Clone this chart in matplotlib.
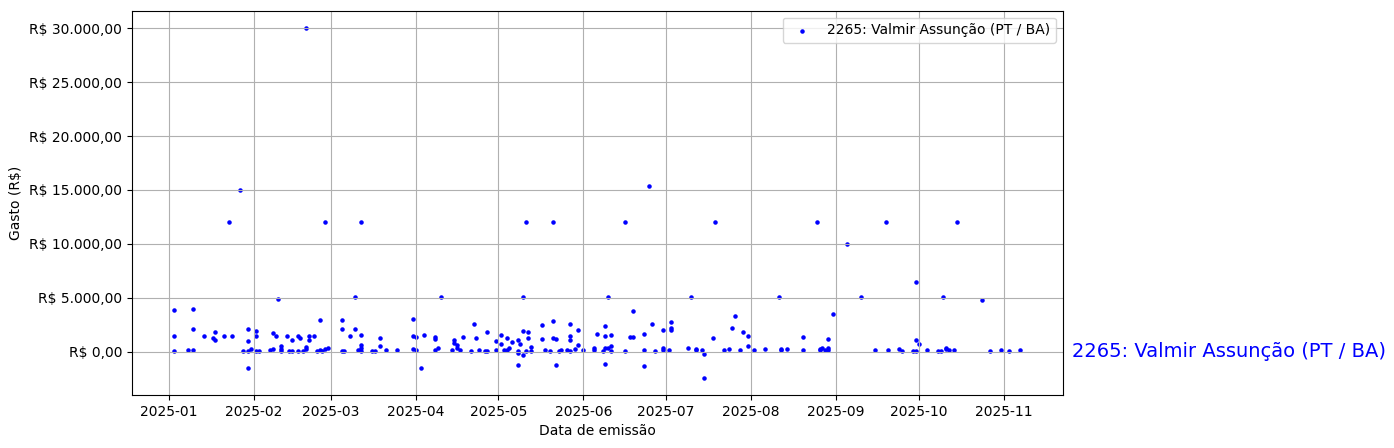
import numpy as np
import pandas as pd
import matplotlib
matplotlib.use("Agg")
import matplotlib.pyplot as plt
import matplotlib.ticker as mticker
import matplotlib.transforms as mtransforms

"""
Data
"""
nome = "2265: Valmir Assunção (PT / BA)"

datas = [
    "2025-01-03", "2025-01-03", "2025-01-03", "2025-01-08", "2025-01-10", "2025-01-10",
    "2025-01-10", "2025-01-14", "2025-01-17", "2025-01-18", "2025-01-18", "2025-01-21",
    "2025-01-24", "2025-01-23", "2025-01-27", "2025-01-28", "2025-01-30", "2025-01-30",
    "2025-01-30", "2025-01-30", "2025-01-31", "2025-02-02", "2025-02-02", "2025-02-02",
    "2025-02-03", "2025-02-07", "2025-02-08", "2025-02-08", "2025-02-09", "2025-02-10",
    "2025-02-11", "2025-02-11", "2025-02-11", "2025-02-13", "2025-02-14", "2025-02-15",
    "2025-02-15", "2025-02-17", "2025-02-17", "2025-02-18", "2025-02-19", "2025-02-20",
    "2025-02-20", "2025-02-21", "2025-02-21", "2025-02-23", "2025-02-24", "2025-02-25",
    "2025-02-25", "2025-02-26", "2025-02-27", "2025-02-28", "2025-02-20", "2025-02-27",
    "2025-03-05", "2025-03-05", "2025-03-05", "2025-03-06", "2025-03-08", "2025-03-10",
    "2025-03-10", "2025-03-12", "2025-03-12", "2025-03-12", "2025-03-11", "2025-03-12",
    "2025-03-12", "2025-03-16", "2025-03-17", "2025-03-19", "2025-03-19", "2025-03-21",
    "2025-03-25", "2025-03-31", "2025-03-31", "2025-03-31", "2025-04-01", "2025-04-01",
    "2025-04-03", "2025-04-04", "2025-04-08", "2025-04-08", "2025-04-09", "2025-04-08",
    "2025-04-10", "2025-04-14", "2025-04-15", "2025-04-15", "2025-04-16", "2025-04-16",
    "2025-04-17", "2025-04-18", "2025-04-21", "2025-04-22", "2025-04-23", "2025-04-24",
    "2025-04-26", "2025-04-27", "2025-04-27", "2025-04-30", "2025-04-30", "2025-05-02",
    "2025-05-02", "2025-05-03", "2025-05-04", "2025-05-04", "2025-05-05", "2025-05-06",
    "2025-05-08", "2025-05-08", "2025-05-08", "2025-05-08", "2025-05-09", "2025-05-10",
    "2025-05-10", "2025-05-10", "2025-05-11", "2025-05-11", "2025-05-12", "2025-05-12",
    "2025-05-13", "2025-05-13", "2025-05-17", "2025-05-17", "2025-05-18", "2025-05-20",
    "2025-05-21", "2025-05-21", "2025-05-21", "2025-05-22", "2025-05-22", "2025-05-23",
    "2025-05-24", "2025-05-26", "2025-05-27", "2025-05-27", "2025-05-27", "2025-05-27",
    "2025-05-29", "2025-05-30", "2025-05-30", "2025-06-01", "2025-06-05", "2025-06-05",
    "2025-06-06", "2025-06-08", "2025-06-09", "2025-06-09", "2025-06-09", "2025-06-09",
    "2025-06-10", "2025-06-11", "2025-06-11", "2025-06-10", "2025-06-11", "2025-06-16",
    "2025-06-16", "2025-06-18", "2025-06-19", "2025-06-19", "2025-06-23", "2025-06-23",
    "2025-06-23", "2025-06-25", "2025-06-26", "2025-06-27", "2025-06-30", "2025-06-30",
    "2025-06-30", "2025-07-02", "2025-07-03", "2025-07-03", "2025-07-03", "2025-07-09",
    "2025-07-10", "2025-07-12", "2025-07-12", "2025-07-14", "2025-07-15", "2025-07-15",
    "2025-07-18", "2025-07-19", "2025-07-22", "2025-07-24", "2025-07-25", "2025-07-26",
    "2025-07-28", "2025-07-29", "2025-07-31", "2025-07-31", "2025-08-02", "2025-08-06",
    "2025-08-11", "2025-08-12", "2025-08-12", "2025-08-14", "2025-08-20", "2025-08-20",
    "2025-08-25", "2025-08-26", "2025-08-26", "2025-08-27", "2025-08-29", "2025-08-29",
    "2025-08-29", "2025-08-28", "2025-08-31", "2025-09-05", "2025-09-10", "2025-09-15",
    "2025-09-19", "2025-09-20", "2025-09-24", "2025-09-25", "2025-09-29", "2025-09-30",
    "2025-09-30", "2025-09-30", "2025-10-01", "2025-10-04", "2025-10-08", "2025-10-09",
    "2025-10-10", "2025-10-11", "2025-10-11", "2025-10-12", "2025-10-14", "2025-10-15",
    "2025-10-24", "2025-10-27", "2025-10-31", "2025-11-03", "2025-11-07",
]

gastos = [
    3900, 1480, 100, 190, 3980, 190,
    2090, 1480, 1300, 1850, 1110, 1480,
    1480, 12000, 15000, 90, 2130, 1020,
    100, -1480, 280, 1940, 1480, 90,
    90, 190, 280, 1760, 1480, 4900,
    560, 280, 90, 1480, 90, 1110,
    90, 1480, 90, 1300, 90, 280,
    460, 1480, 1110, 1480, 90, 2960,
    190, 90, 280, 370, 30000, 12000,
    2960, 2130, 90, 90, 1480, 5090,
    2130, 1570, 650, 370, 190, 90,
    12000, 90, 90, 1300, 560, 190,
    190, 3060, 1480, 280, 1390, 190,
    -1480, 1570, 1390, 1200, 370, 190,
    5090, 190, 1110, 830, 650, 370,
    190, 1390, 90, 2590, 1300, 190,
    90, 1850, 90, 1020, 190, 1570,
    740, 190, 1300, 190, 370, 930,
    -1200, -90, 1110, 90, 740, 5090,
    1940, -280, 90, 12000, 1850, 1300,
    460, 90, 2500, 1200, 190, 90,
    2870, 1300, 12000, 1200, -1200, 90,
    190, 190, 2590, 1480, 1110, 90,
    280, 2040, 650, 190, 190, 370,
    1670, 90, 2410, 1480, 370, -1110,
    5090, 1570, 560, 370, 90, 90,
    12000, 1390, 1390, 3800, 1670, 190,
    -1300, 15400, 2590, 90, 2040, 370,
    190, 190, 2780, 2220, 2040, 370,
    5090, 280, 190, 190, -190, -2410,
    1300, 12000, 190, 280, 2220, 3330,
    190, 1850, 1480, 560, 190, 280,
    5090, 280, 190, 280, 1390, 190,
    12000, 190, 280, 370, 1200, 370,
    190, 190, 3520, 10000, 5090, 190,
    12000, 190, 280, 90, 90, 90,
    6480, 1110, 740, 190, 90, 90,
    5090, 280, 370, 190, 190, 12000,
    4810, 90, 190, 90, 190,
]

x = pd.to_datetime(datas)
y = np.asarray(gastos, dtype=float)

"""
Plot
"""
fig, ax = plt.subplots(figsize=(13.94, 4.48), dpi=100)
fig.subplots_adjust(left=0.0945, right=0.7623, bottom=0.118, top=0.976)

ax.scatter(x, y, s=5, color="blue", label=nome)

def brl(v, pos):
    s = "{:,.2f}".format(v)
    s = s.replace(",", "X").replace(".", ",").replace("X", ".")
    return "R$ " + s

ax.yaxis.set_major_formatter(mticker.FuncFormatter(brl))
ax.set_xlabel("Data de emissão")
ax.set_ylabel("Gasto (R$)")
ax.grid(True)
ax.legend(loc="upper right")

trans = mtransforms.blended_transform_factory(ax.transAxes, ax.transData)
ax.text(1.01, 0, nome, transform=trans, color="blue", fontsize=14, va="center", ha="left")

fig.savefig("out.png", dpi=100)
